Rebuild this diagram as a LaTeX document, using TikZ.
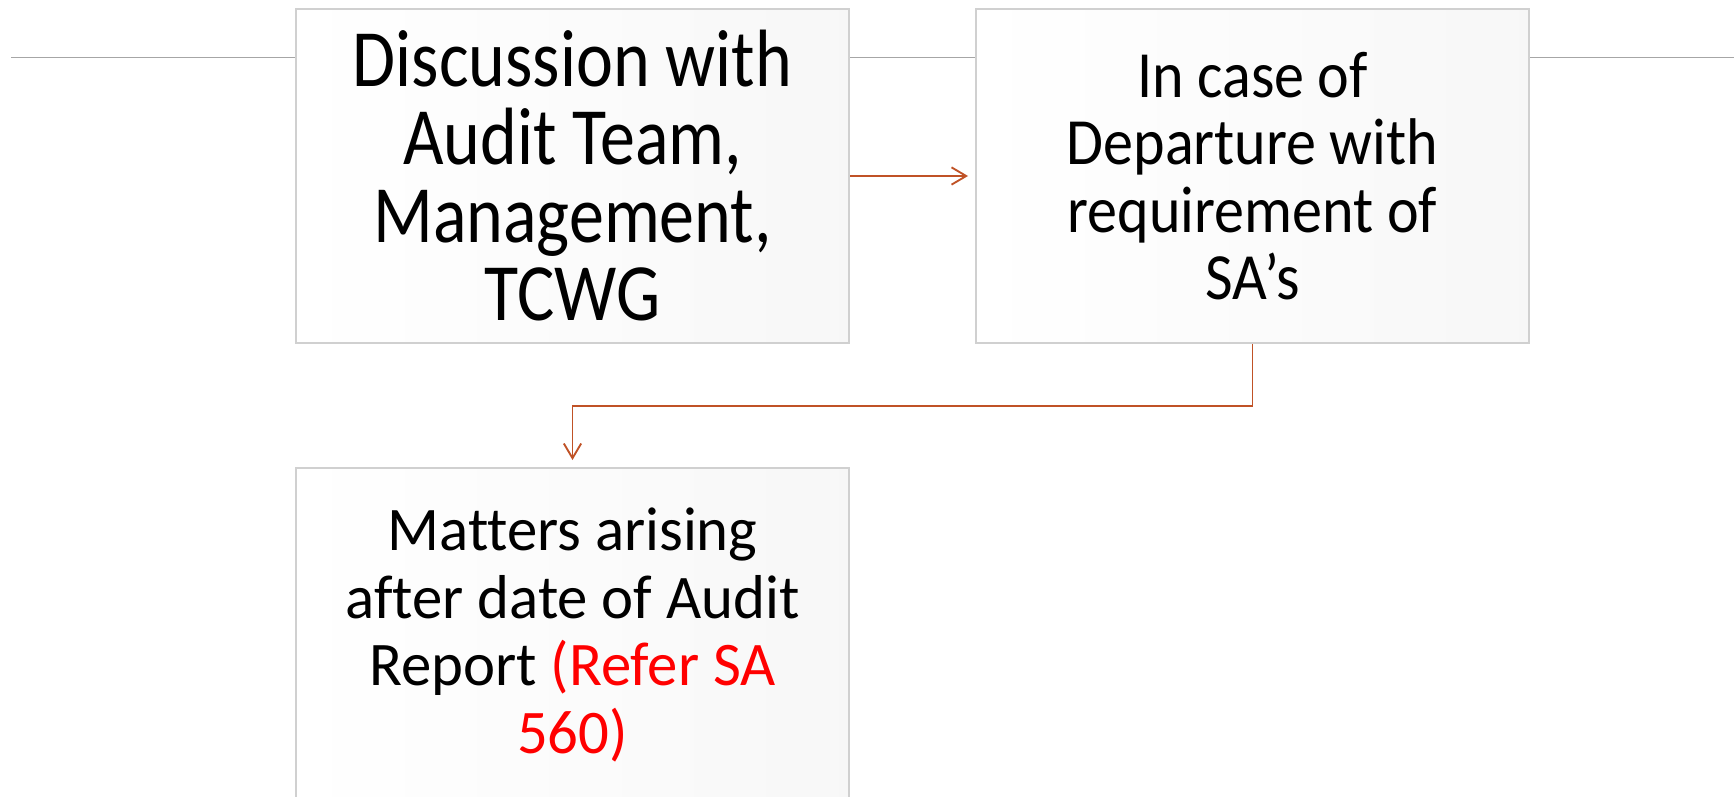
\documentclass[tikz,border=0pt]{standalone}
\usepackage{fontspec}
\setmainfont{Carlito}[Ligatures=NoCommon]
\newfontfamily\wideface{Carlito}[FakeStretch=0.86,Ligatures=NoCommon]
\newfontfamily\midface{Carlito}[FakeStretch=0.91,Ligatures=NoCommon]
\newfontfamily\lowface{Carlito}[FakeStretch=0.98,Ligatures=NoCommon]
\usetikzlibrary{arrows.meta}
\setlength{\lineskiplimit}{-200pt}
\definecolor{linkclr}{RGB}{192,82,38}
\definecolor{rulegray}{RGB}{166,166,166}
\definecolor{boxedge}{RGB}{208,208,208}
\begin{document}
\begin{tikzpicture}[x=0.75pt,y=-0.75pt,
  card/.style={draw=boxedge, line width=2pt, left color=white, right color=black!3,
    minimum width=414.75pt, minimum height=250.5pt, inner sep=0pt, align=center, text=black},
  link/.style={draw=linkclr, line width=1.4pt,
    -{Straight Barb[length=11pt,width=13pt,line width=1.4pt]}, shorten >=5pt}]
\useasboundingbox (0,0) rectangle (1734,796);
\clip (0,0) rectangle (1734,796);
\fill[white] (0,0) rectangle (1734,796);
% thin rule running behind the top row
\coordinate (ruleL) at (11,57.5);
\coordinate (ruleR) at (1734,57.5);
\draw[rulegray, line width=1.3pt] (ruleL) -- (ruleR);
% boxes
\node[card, font=\wideface\fontsize{61}{58.5}\selectfont] (disc) at (572.5,176)
  {Discussion with\\Audit Team,\\Management,\\TCWG};
\node[card, font=\midface\fontsize{49.5}{50.6}\selectfont] (dep) at (1252.5,176)
  {In case of\\Departure with\\requirement of\\SA’s};
\node[card, font=\lowface\fontsize{46.5}{50.6}\selectfont] (after) at (572.5,635)
  {Matters arising\\after date of Audit\\Report \textcolor{red}{(Refer SA}\\\textcolor{red}{560)}};
% connectors
\draw[link] (disc.east) -- (dep.west);
\draw[link] (dep.south) -- ++(0,62) -| (after.north);
\end{tikzpicture}
\end{document}
